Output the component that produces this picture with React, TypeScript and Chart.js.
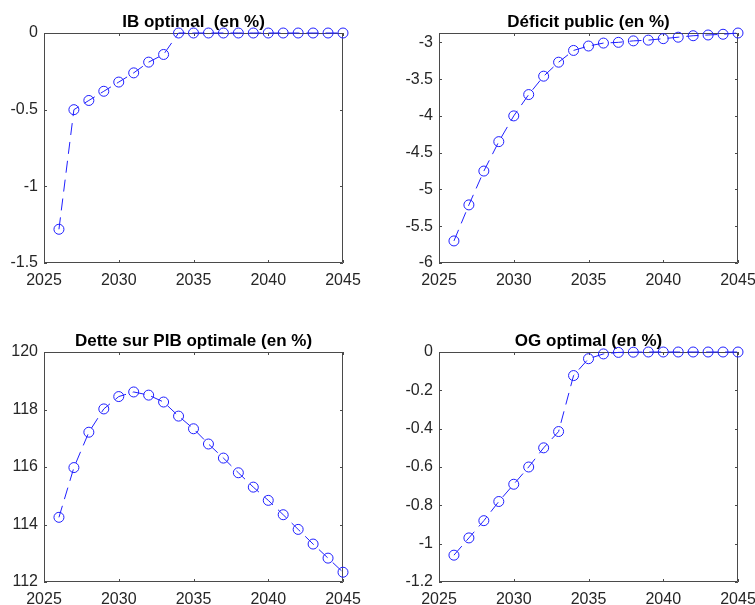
import { useEffect, useRef } from 'react';
import { Chart, registerables } from 'chart.js';

Chart.register(...registerables);

// ---------- data ----------
const years = [2026, 2027, 2028, 2029, 2030, 2031, 2032, 2033, 2034, 2035, 2036, 2037, 2038, 2039, 2040, 2041, 2042, 2043, 2044, 2045];

const ibValues = [-1.28, -0.5, -0.44, -0.38, -0.32, -0.26, -0.19, -0.14, 0, 0, 0, 0, 0, 0, 0, 0, 0, 0, 0, 0];
const deficitValues = [-5.7, -5.21, -4.75, -4.35, -4.0, -3.71, -3.46, -3.27, -3.11, -3.05, -3.01, -3.0, -2.98, -2.97, -2.95, -2.93, -2.91, -2.9, -2.89, -2.873];
const detteValues = [114.25, 115.98, 117.21, 118.02, 118.45, 118.61, 118.5, 118.26, 117.77, 117.33, 116.8, 116.31, 115.8, 115.3, 114.84, 114.34, 113.83, 113.32, 112.83, 112.34];
const ogValues = [-1.06, -0.97, -0.88, -0.78, -0.69, -0.6, -0.5, -0.415, -0.123, -0.035, -0.01, -0.002, -0.001, 0, 0, 0, 0, 0, 0, 0];

const xTicks = [2025, 2030, 2035, 2040, 2045];
const ibTicks = [-1.5, -1, -0.5, 0];
const deficitTicks = [-6, -5.5, -5, -4.5, -4, -3.5, -3];
const detteTicks = [112, 114, 116, 118, 120];
const ogTicks = [-1.2, -1, -0.8, -0.6, -0.4, -0.2, 0];

const titles = ['IB optimal  (en %)', 'Déficit public (en %)', 'Dette sur PIB optimale (en %)', 'OG optimal (en %)'];

// ---------- styling / layout ----------
const FONT = "'Liberation Sans', Arial, Helvetica, sans-serif";
const BLUE = '#1f1fff';
const AXIS = '#4a4a4a';
const TEXT = '#262626';
const YW = 44; // width reserved for y labels (mirrored on the right for centring)
const TOP_BLOCK = 33;
const XH = 30;

type Panel = {
  title: string;
  values: number[];
  yTicks: number[];
  yMin: number;
  yMax: number;
  box: [number, number, number, number]; // x0, x1, y0, y1 of plot area in page px
};

const panels: Panel[] = [
  { title: titles[0], values: ibValues, yTicks: ibTicks, yMin: -1.5, yMax: 0, box: [44, 343, 33, 263] },
  { title: titles[1], values: deficitValues, yTicks: deficitTicks, yMin: -6, yMax: -2.873, box: [439, 738, 33, 263] },
  { title: titles[2], values: detteValues, yTicks: detteTicks, yMin: 112, yMax: 120, box: [44, 343, 352, 582] },
  { title: titles[3], values: ogValues, yTicks: ogTicks, yMin: -1.2, yMax: 0, box: [439, 738, 352, 582] },
];

const boxPlugin = {
  id: 'matlabBox',
  beforeDatasetsDraw(chart: any) {
    const { ctx, chartArea } = chart;
    const left = Math.round(chartArea.left);
    const right = Math.round(chartArea.right);
    const top = Math.round(chartArea.top);
    const bottom = Math.round(chartArea.bottom);
    const xs = chart.scales.x;
    const ys = chart.scales.y;
    const tl = 3;
    ctx.save();
    ctx.strokeStyle = AXIS;
    ctx.lineWidth = 1;
    ctx.setLineDash([]);
    ctx.beginPath();
    ctx.rect(left + 0.5, top + 0.5, right - left - 1, bottom - top - 1);
    xs.ticks.forEach((t: any) => {
      const px = Math.round(xs.getPixelForValue(t.value)) + 0.5;
      ctx.moveTo(px, bottom);
      ctx.lineTo(px, bottom - tl);
      ctx.moveTo(px, top);
      ctx.lineTo(px, top + tl);
    });
    ys.ticks.forEach((t: any) => {
      const py = Math.round(ys.getPixelForValue(t.value)) + 0.5;
      ctx.moveTo(left, py);
      ctx.lineTo(left + tl, py);
      ctx.moveTo(right, py);
      ctx.lineTo(right - tl, py);
    });
    ctx.stroke();
    ctx.restore();
  },
};

function PanelChart({ panel }: { panel: Panel }) {
  const ref = useRef<HTMLCanvasElement | null>(null);
  const [x0, x1, y0, y1] = panel.box;
  const width = x1 - x0 + 2 * YW;
  const height = y1 - y0 + TOP_BLOCK + XH;
  const left = x0 - YW;
  const top = y0 - TOP_BLOCK;

  useEffect(() => {
    if (!ref.current) return;
    const chart = new Chart(ref.current, {
      type: 'line',
      data: {
        datasets: [
          {
            data: years.map((yr, i) => ({ x: yr, y: panel.values[i] })),
            borderColor: BLUE,
            borderWidth: 1,
            borderDash: [12, 7],
            pointStyle: 'circle',
            pointRadius: 5,
            pointBorderWidth: 1,
            pointBorderColor: BLUE,
            pointBackgroundColor: 'rgba(0,0,0,0)',
            fill: false,
            tension: 0,
            clip: false,
          } as any,
        ],
      },
      options: {
        responsive: false,
        animation: false,
        events: [],
        layout: { padding: 0 },
        plugins: {
          legend: { display: false },
          tooltip: { enabled: false },
          title: {
            display: true,
            text: panel.title,
            color: '#000',
            font: { family: FONT, size: 17, weight: 'bold', lineHeight: 1 },
            padding: { top: 14, bottom: 2 },
          },
        },
        scales: {
          x: {
            type: 'linear',
            min: xTicks[0],
            max: xTicks[xTicks.length - 1],
            grid: { display: false, drawTicks: false },
            border: { display: false },
            ticks: {
              color: TEXT,
              font: { family: FONT, size: 16 },
              padding: 8,
              maxRotation: 0,
              autoSkip: false,
              callback: (v: any) => String(v),
            },
            afterBuildTicks: (s: any) => {
              s.ticks = xTicks.map((v) => ({ value: v }));
            },
            afterFit: (s: any) => {
              s.height = XH;
            },
          },
          y: {
            type: 'linear',
            position: 'left',
            min: panel.yMin,
            max: panel.yMax,
            grid: { display: false, drawTicks: false },
            border: { display: false },
            ticks: {
              color: TEXT,
              font: { family: FONT, size: 16 },
              padding: 6,
              autoSkip: false,
              callback: (v: any) => String(Math.round(v * 1000) / 1000),
            },
            afterBuildTicks: (s: any) => {
              s.ticks = panel.yTicks.map((v) => ({ value: v }));
            },
            afterFit: (s: any) => {
              s.width = YW;
            },
          },
          yRight: {
            type: 'linear',
            position: 'right',
            display: true,
            grid: { display: false, drawTicks: false },
            border: { display: false },
            ticks: { display: false },
            afterFit: (s: any) => {
              s.width = YW;
            },
          },
        },
      } as any,
      plugins: [boxPlugin],
    });
    return () => chart.destroy();
  }, [panel]);

  return (
    <canvas
      ref={ref}
      width={width}
      height={height}
      style={{ position: 'absolute', left, top, width, height, display: 'block' }}
    />
  );
}

export default function App() {
  return (
    <div
      style={{
        position: 'fixed',
        left: 0,
        top: 0,
        width: 755,
        height: 605,
        overflow: 'hidden',
        background: '#fff',
      }}
    >
      {panels.map((p) => (
        <PanelChart key={p.title} panel={p} />
      ))}
    </div>
  );
}
